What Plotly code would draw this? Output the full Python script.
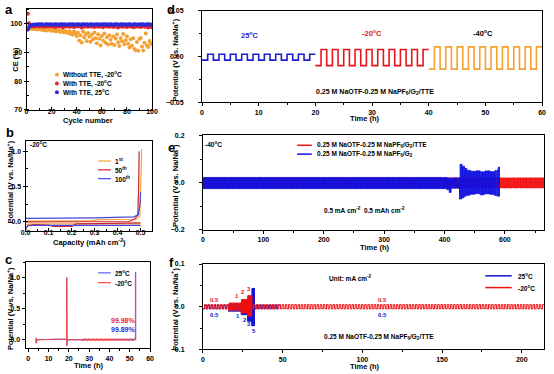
import numpy as np
import plotly.graph_objects as go

W, H = 554, 374
def px(x): return x / W
def py(y): return 1 - y / H

# ---------------- Panel a: Coulombic efficiency ----------------
cycle_number = list(range(1, 101))
ce_without_tte_m20 = [
    98.0, 98.3, 98.5, 98.4, 98.2, 98.3, 98.1, 98.4, 98.0, 98.2,
    98.1, 97.9, 98.2, 97.8, 98.0, 97.7, 98.1, 97.9, 97.6, 98.0,
    97.8, 97.5, 97.9, 97.3, 97.8, 97.6, 97.2, 97.7, 97.4, 97.0,
    97.5, 97.1, 96.8, 97.4, 96.5, 97.0, 96.2, 97.3, 96.6, 95.8,
    96.9, 94.2, 96.0, 93.5, 97.3, 95.2, 96.5, 94.0, 96.8, 95.5,
    93.8, 96.2, 94.6, 97.0, 95.0, 93.2, 96.4, 94.8, 92.5, 95.8,
    94.1, 96.6, 93.4, 95.3, 92.8, 96.0, 94.5, 93.0, 95.6, 92.6,
    94.9, 96.3, 93.6, 92.3, 95.1, 93.9, 96.5, 92.9, 94.3, 95.7,
    93.1, 91.8, 94.6, 92.4, 95.0, 91.2, 90.8, 93.7, 90.6, 94.8,
    95.1, 92.1, 90.7, 93.4, 96.6, 92.5, 91.9, 94.0, 93.2, 92.8]
ce_with_tte_m20 = [
    103.5, 100.2, 99.1, 99.2, 99.3, 99.1, 99.4, 99.2, 99.3, 99.1,
    99.4, 99.2, 99.3, 99.0, 99.2, 99.4, 99.1, 99.3, 99.2, 99.4,
    99.1, 99.3, 98.9, 99.2, 99.4, 99.1, 99.3, 99.2, 98.8, 99.3,
    99.1, 99.4, 99.2, 99.0, 99.3, 99.1, 99.4, 98.9, 99.2, 99.3,
    99.1, 99.4, 99.2, 98.7, 99.3, 99.1, 99.2, 99.4, 99.0, 99.3,
    99.2, 99.1, 99.4, 98.9, 99.3, 99.2, 99.0, 99.4, 99.1, 99.3,
    98.8, 99.2, 99.4, 99.1, 99.3, 99.0, 99.2, 99.4, 98.9, 99.3,
    99.1, 99.2, 98.7, 99.3, 99.4, 99.0, 99.2, 99.1, 99.3, 98.9,
    99.2, 99.4, 99.1, 99.3, 98.8, 99.2, 99.0, 99.3, 99.1, 99.4,
    98.9, 99.2, 99.3, 99.0, 99.2, 99.1, 98.7, 99.3, 99.0, 98.8]
ce_with_tte_25 = [
    98.0, 98.9, 99.4, 99.6, 99.7, 99.8, 99.7, 99.8, 99.9, 99.8,
    99.8, 99.9, 99.8, 99.7, 99.8, 99.9, 99.8, 99.8, 99.9, 99.8,
    99.7, 99.8, 99.9, 99.8, 99.8, 99.7, 99.9, 99.8, 99.8, 99.9,
    99.8, 99.7, 99.8, 99.9, 99.8, 99.8, 99.9, 99.7, 99.8, 99.8,
    99.9, 99.8, 99.7, 99.8, 99.9, 99.8, 99.8, 99.9, 99.7, 99.8,
    99.8, 99.9, 99.8, 99.7, 99.8, 99.9, 99.8, 99.8, 99.7, 99.9,
    99.8, 99.8, 99.9, 99.7, 99.8, 99.8, 99.9, 99.8, 99.7, 99.8,
    99.9, 99.8, 99.8, 99.7, 99.9, 99.8, 99.8, 99.9, 99.7, 99.8,
    99.8, 99.9, 99.8, 99.7, 99.8, 99.9, 99.8, 99.8, 99.7, 99.9,
    99.8, 99.8, 99.9, 99.7, 99.8, 99.8, 99.9, 99.8, 99.7, 99.8]

# ---------------- Panel b: voltage profiles (capacity, potential) ----------------
b_1st_plate_cap = [0.0, 0.004, 0.02, 0.5]
b_1st_plate_pot = [-0.06, -0.035, -0.03, -0.03]
b_1st_strip_cap = [0.0, 0.28, 0.33, 0.48, 0.497, 0.502, 0.505]
b_1st_strip_pot = [0.012, 0.016, 0.032, 0.037, 0.08, 0.6, 1.03]
b_50th_plate_cap = [0.0, 0.003, 0.012, 0.04, 0.1, 0.12, 0.2, 0.22, 0.5]
b_50th_plate_pot = [-0.125, -0.08, -0.05, -0.04, -0.045, -0.065, -0.065, -0.03, -0.015]
b_50th_strip_cap = [0.0, 0.45, 0.475, 0.488, 0.492, 0.494]
b_50th_strip_pot = [0.0, 0.005, 0.04, 0.1, 0.5, 1.0]
b_100th_plate_cap = [0.0, 0.002, 0.01, 0.03, 0.5]
b_100th_plate_pot = [-0.12, -0.08, -0.055, -0.05, -0.05]
b_100th_strip_cap = [0.0, 0.01, 0.3, 0.47, 0.49, 0.498, 0.5]
b_100th_strip_pot = [0.05, 0.05, 0.055, 0.07, 0.1, 0.25, 0.42]

# ---------------- Panel c: CE test profile (time, potential) ----------------
c_red_time = [3.9, 3.9, 4.3, 11.8, 12.0, 18.9, 18.95, 19.05, 19.3, 26.5]
c_red_pot = [0.03, -0.06, 0.0, 0.0, 0.012, 0.012, 1.0, -0.1, 0.0, 0.0]
c_red_osc = dict(start=26.5, end=52.8, period=2.0, high=0.01, low=-0.006)
c_red_end_time = [52.8, 52.8]
c_red_end_pot = [0.0, 1.05]
c_blue_time = [3.9, 3.9, 4.3, 11.8, 12.0, 18.9, 18.95, 19.05, 19.3, 52.9, 52.9]
c_blue_pot = [0.02, -0.05, 0.0, 0.0, 0.01, 0.01, 1.0, -0.09, 0.003, 0.003, 1.09]

# ---------------- Panel d: temperature switching (segments) ----------------
d_seg_start = [0, 20, 40]
d_seg_end = [20, 40, 60]
d_seg_period = [2, 2, 2]
d_seg_high = [0.0025, 0.0076, 0.0105]
d_seg_low = [-0.004, -0.010, -0.0138]

# ---------------- Panel e: long cycling at -40 C ----------------
e_red_start = [0]
e_red_end = [565]
e_red_period = [2]
e_red_high = [0.02]
e_red_low = [-0.023]
e_blue_start = [0, 404, 408, 412, 425, 429, 433, 437, 443, 451, 459, 467, 475, 483, 488]
e_blue_end = [404, 408, 412, 425, 429, 433, 437, 443, 451, 459, 467, 475, 483, 488, 492]
e_blue_period = [2] * 15
e_blue_high = [0.022, 0.02, 0.018, 0.02, 0.078, 0.07, 0.06, 0.052, 0.048, 0.05, 0.046, 0.05, 0.047, 0.052, 0.065]
e_blue_low = [-0.026, -0.03, -0.042, -0.024, -0.07, -0.065, -0.058, -0.054, -0.05, -0.047, -0.052, -0.048, -0.05, -0.055, -0.058]
e_tickvals = [0, 100, 200, 300, 400, 500]
e_ticktext = ["0", "100", "200", "300", "400", "600"]

# ---------------- Panel f: rate test ----------------
f_blue_start = [0, 16, 24, 28, 30.7, 32.3]
f_blue_end = [16, 24, 28, 30.7, 32.3, 48]
f_blue_period = [2, 1, 0.5, 1 / 3, 0.2, 2]
f_blue_high = [0.004, 0.007, 0.015, 0.022, 0.043, 0.004]
f_blue_low = [-0.005, -0.011, -0.019, -0.034, -0.045, -0.005]
f_red_start = [0, 16, 24, 28, 30.7]
f_red_end = [16, 24, 28, 30.7, 214]
f_red_period = [2, 1, 0.5, 1 / 3, 2]
f_red_high = [0.005, 0.009, 0.017, 0.026, 0.005]
f_red_low = [-0.005, -0.009, -0.015, -0.022, -0.005]


def square_wave(starts, ends, periods, highs, lows):
    xs, ys = [], []
    for t0, t1, p, hi, lo in zip(starts, ends, periods, highs, lows):
        n = max(1, int(round((t1 - t0) / p)))
        step = (t1 - t0) / n
        for k in range(n):
            a = t0 + k * step
            m = a + step / 2
            xs += [a, m, m, a + step]
            ys += [lo, lo, hi, hi]
    return xs, ys


ORANGE = '#F4A236'
RED = '#E3242B'
BLUE = '#2B2BD9'

fig = go.Figure()

# ---- a ----
fig.add_trace(go.Scatter(x=cycle_number, y=ce_without_tte_m20, mode='markers',
                         marker=dict(size=4, color=ORANGE), xaxis='x', yaxis='y'))
fig.add_trace(go.Scatter(x=cycle_number, y=ce_with_tte_m20, mode='markers',
                         marker=dict(size=4, color=RED), xaxis='x', yaxis='y'))
fig.add_trace(go.Scatter(x=cycle_number, y=ce_with_tte_25, mode='markers',
                         marker=dict(size=4, color=BLUE), xaxis='x', yaxis='y'))

# ---- b ----
for pc, pp, sc, sp, col in [
    (b_1st_plate_cap, b_1st_plate_pot, b_1st_strip_cap, b_1st_strip_pot, '#F7A43C'),
    (b_50th_plate_cap, b_50th_plate_pot, b_50th_strip_cap, b_50th_strip_pot, '#C82630'),
    (b_100th_plate_cap, b_100th_plate_pot, b_100th_strip_cap, b_100th_strip_pot, '#4545DD'),
]:
    fig.add_trace(go.Scatter(x=pc + [None] + sc, y=pp + [None] + sp, mode='lines',
                             line=dict(color=col, width=1.2), xaxis='x2', yaxis='y2'))

# ---- c ----
fig.add_trace(go.Scatter(x=c_blue_time, y=c_blue_pot, mode='lines',
                         line=dict(color='#5A5AEA', width=1.2), xaxis='x3', yaxis='y3'))
ox, oy = square_wave([c_red_osc['start']], [c_red_osc['end']], [c_red_osc['period']],
                     [c_red_osc['high']], [c_red_osc['low']])
fig.add_trace(go.Scatter(x=c_red_time + ox + c_red_end_time, y=c_red_pot + oy + c_red_end_pot,
                         mode='lines', line=dict(color='#EE4A4A', width=1.2),
                         xaxis='x3', yaxis='y3'))

# ---- d ----
d_colors = ['#1E1ECF', '#E8141B', '#F5A030']
for i in range(3):
    sx, sy = square_wave([d_seg_start[i]], [d_seg_end[i]], [d_seg_period[i]],
                         [d_seg_high[i]], [d_seg_low[i]])
    fig.add_trace(go.Scatter(x=sx, y=sy, mode='lines', line=dict(color=d_colors[i], width=1.6),
                             xaxis='x4', yaxis='y4'))

# ---- e ----
rx, ry = square_wave(e_red_start, e_red_end, e_red_period, e_red_high, e_red_low)
fig.add_trace(go.Scatter(x=rx, y=ry, mode='lines', line=dict(color='#F21010', width=1),
                         xaxis='x5', yaxis='y5'))
bx, by = square_wave(e_blue_start, e_blue_end, e_blue_period, e_blue_high, e_blue_low)
fig.add_trace(go.Scatter(x=bx, y=by, mode='lines', line=dict(color='#1010E0', width=1),
                         xaxis='x5', yaxis='y5'))

# ---- f ----
bx, by = square_wave(f_blue_start, f_blue_end, f_blue_period, f_blue_high, f_blue_low)
fig.add_trace(go.Scatter(x=bx, y=by, mode='lines', line=dict(color='#1515D5', width=1),
                         xaxis='x6', yaxis='y6'))
rx, ry = square_wave(f_red_start, f_red_end, f_red_period, f_red_high, f_red_low)
fig.add_trace(go.Scatter(x=rx, y=ry, mode='lines', line=dict(color='#F01010', width=1),
                         xaxis='x6', yaxis='y6'))


def ax(domain_px, horizontal, **kw):
    if horizontal:
        dom = [px(domain_px[0]), px(domain_px[1])]
    else:
        dom = [py(domain_px[1]), py(domain_px[0])]
    d = dict(domain=dom, showline=True, linecolor='black', linewidth=1, mirror=True,
             ticks='outside', ticklen=3, tickwidth=1, tickcolor='black',
             showgrid=False, zeroline=False, tickfont=dict(size=7, color='black'),
             minor=dict(ticks='outside', ticklen=2, tickwidth=1, tickcolor='black'))
    d.update(kw)
    return d


IN_MINOR = dict(ticks='inside', ticklen=2, tickwidth=1, tickcolor='black')

fig.update_layout(
    width=W, height=H, margin=dict(l=0, r=0, t=0, b=0),
    paper_bgcolor='white', plot_bgcolor='white', showlegend=False,
    font=dict(family='Liberation Sans, Arial, sans-serif', size=7, color='black', weight='bold'),
    xaxis=ax([22, 150], True, anchor='y', range=[0, 100], dtick=20, ticks='inside',
             minor=dict(IN_MINOR, dtick=10), ticklabelstandoff=-5),
    yaxis=ax([5, 108], False, anchor='x', range=[70, 105.2], tickvals=[70, 80, 90, 100],
             minor=dict(IN_MINOR, dtick=5), ticklen=2),
    xaxis2=ax([21, 150], True, anchor='y2', range=[0, 0.55], dtick=0.1, tickformat='.1f',
              ticks='inside', minor=dict(IN_MINOR, dtick=0.05), ticklabelstandoff=-5),
    yaxis2=ax([140, 231], False, anchor='x2', range=[-0.125, 1.14], dtick=0.5, tickformat='.1f',
              minor=dict(IN_MINOR, dtick=0.25), ticklen=2),
    xaxis3=ax([21, 148], True, anchor='y3', range=[-1.3, 60], dtick=10, minor_dtick=5),
    yaxis3=ax([263, 351], False, anchor='x3', range=[-0.14, 1.25], dtick=0.5, tickformat='.1f', minor_dtick=0.25),
    xaxis4=ax([201, 548], True, anchor='y4', range=[0, 60], dtick=10, minor_dtick=5),
    yaxis4=ax([7, 100], False, anchor='x4', range=[-0.05, 0.05], dtick=0.05, tickformat='.2f',
              minor_dtick=0.025, ticklabelstandoff=13),
    xaxis5=ax([202, 550], True, anchor='y5', range=[0, 565], tickvals=e_tickvals, ticktext=e_ticktext,
              minor_dtick=50),
    yaxis5=ax([134, 230], False, anchor='x5', range=[-0.2, 0.2], dtick=0.2, tickformat='.1f',
              minor_dtick=0.1, ticklabelstandoff=13),
    xaxis6=ax([202, 550], True, anchor='y6', range=[0, 214], dtick=50, minor_dtick=25),
    yaxis6=ax([265, 352], False, anchor='x6', range=[-0.1, 0.1], dtick=0.1, tickformat='.1f',
              minor_dtick=0.05, ticklabelstandoff=13),
)


def txt(x, y, s, color='black', size=7, xanchor='center', angle=0):
    fig.add_annotation(x=px(x), y=py(y), xref='paper', yref='paper', text=s, showarrow=False,
                       font=dict(size=size, color=color), xanchor=xanchor, yanchor='middle',
                       textangle=angle, borderpad=0)


def key_line(x0, x1, y, color, w=1.5):
    fig.add_shape(type='line', xref='paper', yref='paper', x0=px(x0), x1=px(x1),
                  y0=py(y), y1=py(y), line=dict(color=color, width=w))


def key_dot(x, y, color, r=2):
    fig.add_shape(type='circle', xref='paper', yref='paper', x0=px(x - r), x1=px(x + r),
                  y0=py(y + r), y1=py(y - r), fillcolor=color, line=dict(width=0))


POT = 'Potential (V vs. Na/Na<sup>+</sup>)'
# panel letters
for L, x, y in [('a', 4, 6), ('b', 5, 131), ('c', 4, 260), ('d', 169, 6), ('e', 170, 146), ('f', 170, 263)]:
    txt(x, y, L, size=13)

# axis titles
txt(11, 56, 'CE (%)', angle=-90, size=7.5)
txt(85, 119, 'Cycle number', size=7.5)
txt(5, 181, POT, angle=-90, size=7.5)
txt(86, 243, 'Capacity (mAh cm<sup>-2</sup>)', size=7.5)
txt(5, 310, POT, angle=-90, size=7.5)
txt(86, 368, 'Time (h)', size=7.5)
txt(173, 57, POT, angle=-90, size=7.5)
txt(367, 117, 'Time (h)', size=7.5)
txt(173, 185, POT, angle=-90, size=7.5)
txt(378, 248, 'Time (h)', size=7.5)
txt(173, 311, POT, angle=-90, size=7.5)
txt(367, 369, 'Time (h)', size=7.5)

# panel a legend
for yy, col, lab in [(72, ORANGE, 'Without TTE, -20<sup>o</sup>C'),
                     (81, RED, 'With TTE, -20<sup>o</sup>C'),
                     (90, BLUE, 'With TTE, 25<sup>o</sup>C')]:
    key_dot(53, yy, col)
    txt(58, yy, lab, xanchor='left', size=6.5)

# panel b
txt(34, 143, '-20<sup>o</sup>C', size=6.5)
for yy, col, lab in [(160, '#F7A43C', '1<sup>st</sup>'), (169, '#C82630', '50<sup>th</sup>'),
                     (178, '#4545DD', '100<sup>th</sup>')]:
    key_line(95, 108, yy, col, 1.2)
    txt(111, yy, lab, xanchor='left', size=6.5)

# panel c
key_line(95, 108, 274, '#5A5AEA', 1.2)
txt(111, 274, '25<sup>o</sup>C', xanchor='left', size=6.5)
key_line(95, 108, 284, '#EE4A4A', 1.2)
txt(111, 284, '-20<sup>o</sup>C', xanchor='left', size=6.5)
txt(121, 323, '99.98%', color='#E8242B', size=7)
txt(121, 332, '99.89%', color='#2B2BD9', size=7)

# panel d
txt(250, 32, '25<sup>o</sup>C', color='#1E1ECF', size=7.5)
txt(374, 30, '-20<sup>o</sup>C', color='#E8141B', size=7.5)
txt(488, 30, '-40<sup>o</sup>C', size=7.5)
txt(377, 90, '0.25 M NaOTF-0.25 M NaPF<sub>6</sub>/G<sub>2</sub>/TTE', size=7)

# panel e
txt(213, 143, '-40<sup>o</sup>C', size=6.5)
key_line(298, 313, 144, '#F21010', 1.5)
txt(317, 144, '0.25 M NaOTF-0.25 M NaPF<sub>6</sub>/G<sub>2</sub>/TTE', xanchor='left', size=6.5)
key_line(298, 313, 153, '#1010E0', 1.5)
txt(317, 153, '0.25 M NaOTF-0.25 M NaPF<sub>6</sub>/G<sub>2</sub>', xanchor='left', size=6.5)
txt(367, 210, '0.5 mA cm<sup>-2</sup>  0.5 mAh cm<sup>-2</sup>', size=6.5)

# panel f
txt(352, 279, 'Unit: mA cm<sup>-2</sup>', size=6.5)
key_line(490, 517, 277, '#1515D5', 1.5)
txt(522, 277, '25<sup>o</sup>C', xanchor='left', size=6.5)
key_line(490, 517, 289, '#F01010', 1.5)
txt(522, 289, '-20<sup>o</sup>C', xanchor='left', size=6.5)
txt(382, 339, '0.25 M NaOTF-0.25 M NaPF<sub>6</sub>/G<sub>2</sub>/TTE', size=6.5)
for x, y, s, col in [(214, 302, '0.5', '#F01010'), (214, 317, '0.5', '#1515D5'),
                     (237, 298, '1', '#F01010'), (243, 294, '2', '#F01010'), (249, 290, '3', '#F01010'),
                     (238, 318, '1', '#1515D5'), (245, 322, '2', '#1515D5'), (249, 326, '3', '#1515D5'),
                     (254, 333, '5', '#1515D5'),
                     (385, 302, '0.5', '#F01010'), (385, 317, '0.5', '#1515D5')]:
    txt(x, y, s, color=col, size=6)

fig.write_html("out.html", config={'displayModeBar': False},
               post_script="document.body.style.margin='0';document.body.style.overflow='hidden';")
